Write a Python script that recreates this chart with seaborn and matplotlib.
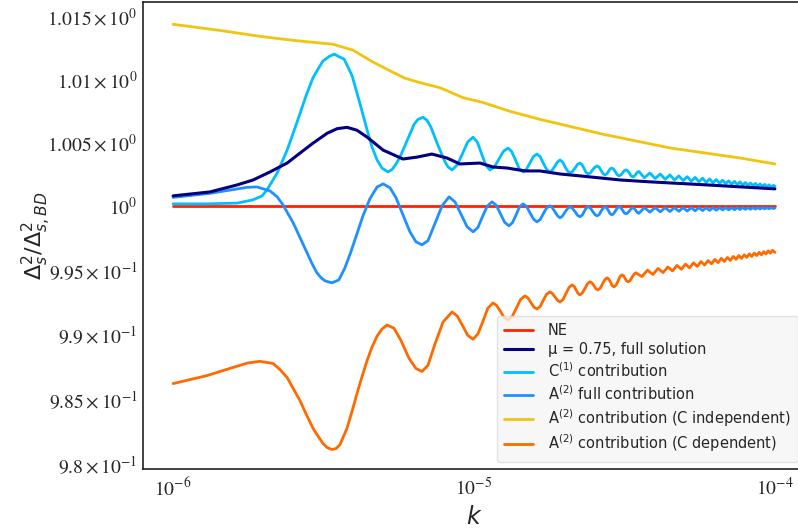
import numpy as np
import pandas as pd
import matplotlib
matplotlib.use("Agg")
import matplotlib.pyplot as plt
import seaborn as sns
from matplotlib.ticker import FixedLocator, FixedFormatter, NullLocator
from matplotlib.font_manager import FontProperties

# ---- data: log10(k) and power-spectrum ratio for each curve ----
logk_ne = [-6.0, -4.0]
ratio_ne = [1.0, 1.0]

logk_full = [-6.000, -5.877, -5.787, -5.734, -5.678, -5.621, -5.578, -5.535, -5.488, -5.455,
             -5.422, -5.389, -5.355, -5.302, -5.236, -5.189, -5.140, -5.090, -5.047, -4.980,
             -4.937, -4.890, -4.831, -4.781, -4.714, -4.648, -4.581, -4.515, -4.415, -4.226,
             -4.000]
ratio_full = [1.00083, 1.00114, 1.00169, 1.00208, 1.00271, 1.00341, 1.00420, 1.00498, 1.00576, 1.00612,
              1.00623, 1.00600, 1.00545, 1.00443, 1.00373, 1.00388, 1.00412, 1.00381, 1.00334, 1.00341,
              1.00310, 1.00302, 1.00279, 1.00279, 1.00255, 1.00240, 1.00224, 1.00208, 1.00193, 1.00169,
              1.00138]

logk_c1 = [-6.000, -5.894, -5.787, -5.734, -5.704, -5.688, -5.654, -5.621, -5.601, -5.578,
           -5.558, -5.535, -5.518, -5.502, -5.482, -5.465, -5.449, -5.432, -5.419, -5.405,
           -5.392, -5.379, -5.355, -5.339, -5.322, -5.306, -5.286, -5.272, -5.259, -5.246,
           -5.229, -5.199, -5.186, -5.169, -5.156, -5.143, -5.120, -5.096, -5.086,
           -5.073, -5.056, -5.038, -5.021, -5.003, -4.989, -4.975, -4.961, -4.947,
           -4.932, -4.917, -4.902, -4.887, -4.875, -4.862, -4.850, -4.837,
           -4.826, -4.814, -4.803, -4.791, -4.780, -4.770, -4.759, -4.748,
           -4.740, -4.731, -4.722, -4.714, -4.706, -4.698, -4.689, -4.681,
           -4.673, -4.664, -4.656, -4.648, -4.641, -4.634, -4.628, -4.621,
           -4.613, -4.606, -4.598, -4.591, -4.584, -4.578, -4.571, -4.565,
           -4.559, -4.553, -4.548, -4.542, -4.536, -4.530, -4.524, -4.518,
           -4.512, -4.506, -4.501, -4.495, -4.489, -4.483, -4.478, -4.472,
           -4.467, -4.462, -4.457, -4.452,
           -4.4339, -4.4156, -4.3979, -4.3810, -4.3647, -4.3490, -4.3339, -4.3192, -4.3050, -4.2913,
           -4.2780, -4.2651, -4.2526, -4.2404, -4.2285, -4.2170, -4.2058, -4.1948, -4.1842, -4.1737,
           -4.1635, -4.1536, -4.1439, -4.1344, -4.1251, -4.1160, -4.1070, -4.0982, -4.0897, -4.0813,
           -4.0730, -4.0650, -4.0570, -4.0492, -4.0415, -4.0340, -4.0266, -4.0193, -4.0122, -4.0051,
           -4.0000]
ratio_c1 = [1.00020, 1.00020, 1.00026, 1.00052, 1.00083, 1.00130, 1.00263, 1.00443, 1.00576, 1.00733,
            1.00874, 1.01015, 1.01085, 1.01148, 1.01183, 1.01203, 1.01183, 1.01164, 1.01101, 1.01030,
            1.00921, 1.00811, 1.00600, 1.00467, 1.00365, 1.00302, 1.00271, 1.00291, 1.00334, 1.00388,
            1.00482, 1.00647, 1.00686, 1.00702, 1.00678, 1.00623, 1.00482, 1.00349, 1.00310,
            1.00287, 1.00325, 1.00416, 1.00507, 1.00545, 1.00507, 1.00416, 1.00325, 1.00287,
            1.00312, 1.00373, 1.00434, 1.00459, 1.00432, 1.00365, 1.00298, 1.00271,
            1.00292, 1.00342, 1.00391, 1.00412, 1.00391, 1.00342, 1.00292, 1.00271,
            1.00285, 1.00318, 1.00351, 1.00365, 1.00350, 1.00314, 1.00278, 1.00263,
            1.00274, 1.00302, 1.00330, 1.00341, 1.00328, 1.00298, 1.00268, 1.00255,
            1.00264, 1.00287, 1.00309, 1.00318, 1.00308, 1.00283, 1.00257, 1.00247,
            1.00255, 1.00275, 1.00294, 1.00302, 1.00293, 1.00271, 1.00249, 1.00240,
            1.00247, 1.00264, 1.00280, 1.00287, 1.00279, 1.00260, 1.00240, 1.00232,
            1.00238, 1.00254, 1.00269, 1.00275,
            1.00225, 1.00263, 1.00219, 1.00255, 1.00213, 1.00248, 1.00208, 1.00240, 1.00203, 1.00234,
            1.00198, 1.00228, 1.00194, 1.00222, 1.00189, 1.00216, 1.00185, 1.00211, 1.00182, 1.00206,
            1.00178, 1.00201, 1.00175, 1.00197, 1.00171, 1.00193, 1.00168, 1.00188, 1.00165, 1.00184,
            1.00162, 1.00181, 1.00160, 1.00177, 1.00157, 1.00173, 1.00154, 1.00170, 1.00152, 1.00166,
            1.00157]

logk_a2 = [-6.000, -5.877, -5.787, -5.754, -5.721, -5.678, -5.654, -5.635, -5.601, -5.578,
           -5.555, -5.538, -5.522, -5.508, -5.495, -5.472, -5.449, -5.429, -5.409, -5.389,
           -5.369, -5.346, -5.322, -5.302, -5.279, -5.259, -5.236, -5.213, -5.193, -5.173,
           -5.153, -5.130, -5.106,
           -5.083, -5.063, -5.043, -5.023, -5.003, -4.987, -4.972, -4.956, -4.940,
           -4.926, -4.912, -4.898, -4.884, -4.872, -4.860, -4.849, -4.837,
           -4.825, -4.814, -4.802, -4.791, -4.780, -4.770, -4.759, -4.748,
           -4.740, -4.731, -4.722, -4.714, -4.706, -4.698, -4.689, -4.681,
           -4.673, -4.664, -4.656, -4.648, -4.641, -4.634, -4.628, -4.621,
           -4.613, -4.606, -4.598, -4.591, -4.584, -4.578, -4.571, -4.565,
           -4.559, -4.553, -4.548, -4.542, -4.536, -4.530, -4.524, -4.518,
           -4.512, -4.506, -4.501, -4.495, -4.489, -4.483, -4.478, -4.472,
           -4.467, -4.462, -4.457, -4.452,
           -4.4339, -4.4156, -4.3979, -4.3810, -4.3647, -4.3490, -4.3339, -4.3192, -4.3050, -4.2913,
           -4.2780, -4.2651, -4.2526, -4.2404, -4.2285, -4.2170, -4.2058, -4.1948, -4.1842, -4.1737,
           -4.1635, -4.1536, -4.1439, -4.1344, -4.1251, -4.1160, -4.1070, -4.0982, -4.0897, -4.0813,
           -4.0730, -4.0650, -4.0570, -4.0492, -4.0415, -4.0340, -4.0266, -4.0193, -4.0122, -4.0051,
           -4.0000]
ratio_a2 = [1.00071, 1.00103, 1.00138, 1.00150, 1.00153, 1.00122, 1.00075, 1.00013, 0.99872, 0.99754,
            0.99637, 0.99551, 0.99480, 0.99441, 0.99417, 0.99402, 0.99425, 0.99519, 0.99645, 0.99785,
            0.99926, 1.00060, 1.00153, 1.00177, 1.00146, 1.00067, 0.99934, 0.99801, 0.99723, 0.99699,
            0.99731, 0.99864, 1.00005,
            1.00075, 1.00035, 0.99938, 0.99841, 0.99801, 0.99835, 0.99919, 1.00002, 1.00036,
            1.00009, 0.99942, 0.99875, 0.99848, 0.99873, 0.99934, 0.99995, 1.00020,
            0.99999, 0.99950, 0.99900, 0.99879, 0.99897, 0.99942, 0.99987, 1.00005,
            0.99991, 0.99958, 0.99925, 0.99911, 0.99924, 0.99954, 0.99984, 0.99997,
            0.99986, 0.99958, 0.99930, 0.99919, 0.99930, 0.99958, 0.99986, 0.99997,
            0.99987, 0.99962, 0.99936, 0.99926, 0.99936, 0.99962, 0.99987, 0.99997,
            0.99988, 0.99966, 0.99943, 0.99934, 0.99943, 0.99966, 0.99988, 0.99997,
            0.99989, 0.99970, 0.99950, 0.99942, 0.99949, 0.99966, 0.99982, 0.99989,
            0.99983, 0.99968, 0.99952, 0.99946,
            0.99991, 0.99955, 0.99991, 0.99958, 0.99991, 0.99960, 0.99991, 0.99962, 0.99991, 0.99964,
            0.99991, 0.99966, 0.99991, 0.99967, 0.99991, 0.99969, 0.99991, 0.99970, 0.99991, 0.99972,
            0.99991, 0.99973, 0.99991, 0.99974, 0.99991, 0.99976, 0.99991, 0.99977, 0.99991, 0.99978,
            0.99991, 0.99979, 0.99991, 0.99980, 0.99991, 0.99981, 0.99991, 0.99982, 0.99991, 0.99983,
            0.99987]

logk_a2_ind = [-6.000, -5.844, -5.711, -5.601, -5.468, -5.402, -5.336, -5.279, -5.229, -5.179,
               -5.113, -5.037, -4.970, -4.880, -4.781, -4.571, -4.346, -4.116, -4.000]
ratio_a2_ind = [1.01440, 1.01391, 1.01344, 1.01312, 1.01281, 1.01234, 1.01140, 1.01070, 1.01011, 1.00976,
                1.00936, 1.00858, 1.00819, 1.00749, 1.00686, 1.00568, 1.00459, 1.00381, 1.00334]

logk_a2_dep = [-6.000, -5.887, -5.801, -5.751, -5.711, -5.668, -5.645, -5.621, -5.578, -5.558,
               -5.535, -5.518, -5.502, -5.488, -5.472, -5.458, -5.445, -5.422, -5.405, -5.389,
               -5.372, -5.355, -5.339, -5.322, -5.306, -5.289, -5.266, -5.243, -5.216, -5.193,
               -5.173, -5.153, -5.130, -5.103,
               -5.073, -5.056, -5.038, -5.021, -5.003, -4.987, -4.970, -4.954, -4.937,
               -4.925, -4.912, -4.900, -4.887, -4.873, -4.859, -4.845, -4.831,
               -4.821, -4.811, -4.801, -4.791, -4.780, -4.770, -4.759, -4.748,
               -4.740, -4.731, -4.722, -4.714, -4.704, -4.694, -4.684, -4.674,
               -4.667, -4.661, -4.654, -4.648, -4.640, -4.631, -4.623, -4.615,
               -4.608, -4.601, -4.595, -4.588, -4.580, -4.573, -4.565, -4.558,
               -4.552, -4.546, -4.541, -4.535, -4.528, -4.521, -4.515, -4.508,
               -4.503, -4.498, -4.493, -4.488, -4.481, -4.475, -4.468, -4.462,
               -4.4421, -4.4234, -4.4055, -4.3883, -4.3717, -4.3557, -4.3404, -4.3255, -4.3111, -4.2972,
               -4.2837, -4.2707, -4.2580, -4.2457, -4.2337, -4.2220, -4.2106, -4.1995, -4.1888, -4.1782,
               -4.1680, -4.1579, -4.1481, -4.1385, -4.1291, -4.1199, -4.1109, -4.1020, -4.0934, -4.0849,
               -4.0766, -4.0684, -4.0604, -4.0526, -4.0448, -4.0372, -4.0298, -4.0224, -4.0152, -4.0082,
               -4.0000]
ratio_a2_dep = [0.98619, 0.98681, 0.98744, 0.98779, 0.98791, 0.98775, 0.98728, 0.98666, 0.98486, 0.98384,
                0.98274, 0.98212, 0.98157, 0.98125, 0.98110, 0.98118, 0.98149, 0.98274, 0.98407, 0.98540,
                0.98674, 0.98799, 0.98901, 0.98987, 0.99042, 0.99073, 0.99049, 0.98955, 0.98815, 0.98736,
                0.98713, 0.98760, 0.98924, 0.99096,
                0.99175, 0.99144, 0.99069, 0.98994, 0.98963, 0.99004, 0.99104, 0.99204, 0.99245,
                0.99226, 0.99179, 0.99131, 0.99112, 0.99139, 0.99206, 0.99273, 0.99300,
                0.99285, 0.99249, 0.99213, 0.99198, 0.99217, 0.99265, 0.99312, 0.99331,
                0.99320, 0.99292, 0.99264, 0.99253, 0.99272, 0.99320, 0.99367, 0.99386,
                0.99375, 0.99347, 0.99319, 0.99308, 0.99323, 0.99359, 0.99395, 0.99410,
                0.99401, 0.99379, 0.99356, 0.99347, 0.99361, 0.99394, 0.99427, 0.99441,
                0.99431, 0.99406, 0.99380, 0.99370, 0.99384, 0.99417, 0.99450, 0.99464,
                0.99456, 0.99437, 0.99418, 0.99410, 0.99420, 0.99445, 0.99470, 0.99480,
                0.99451, 0.99501, 0.99467, 0.99514, 0.99482, 0.99526, 0.99495, 0.99538, 0.99508, 0.99548,
                0.99519, 0.99558, 0.99530, 0.99568, 0.99541, 0.99576, 0.99551, 0.99585, 0.99560, 0.99593,
                0.99569, 0.99600, 0.99577, 0.99608, 0.99585, 0.99615, 0.99593, 0.99621, 0.99601, 0.99628,
                0.99608, 0.99634, 0.99615, 0.99640, 0.99621, 0.99645, 0.99628, 0.99651, 0.99634, 0.99656,
                0.99640]

x_ticks = [1e-6, 1e-5, 1e-4]
x_tick_labels = [r"$10^{-6}$", r"$10^{-5}$", r"$10^{-4}$"]
y_ticks = [0.98, 0.985, 0.99, 0.995, 1.0, 1.005, 1.01, 1.015]
y_tick_labels = [r"$9.8\times10^{-1}$", r"$9.85\times10^{-1}$", r"$9.9\times10^{-1}$",
                 r"$9.95\times10^{-1}$", r"$10^{0}$", r"$1.005\times10^{0}$",
                 r"$1.01\times10^{0}$", r"$1.015\times10^{0}$"]

# ---- styling ----
sns.set_style("white")
plt.rcParams["font.family"] = ["DejaVu Sans"]
plt.rcParams["mathtext.fontset"] = "stix"

fig = plt.figure(figsize=(7.98, 5.29), dpi=100)
ax = fig.add_axes([143 / 798, 1 - 469 / 529, 662 / 798, (469 - 1.7) / 529])

curves = [
    ("NE", logk_ne, ratio_ne, "#ff2200", 2.0, 2),
    ("μ = 0.75, full solution", logk_full, ratio_full, "#000080", 2.2, 5),
    (r"C$^{(1)}$ contribution", logk_c1, ratio_c1, "#00bfff", 2.0, 3),
    (r"A$^{(2)}$ full contribution", logk_a2, ratio_a2, "#1e90ff", 2.0, 4),
    (r"A$^{(2)}$ contribution (C independent)", logk_a2_ind, ratio_a2_ind, "#f1c40f", 2.0, 3),
    (r"A$^{(2)}$ contribution (C dependent)", logk_a2_dep, ratio_a2_dep, "#ff6a00", 2.0, 3),
]

for label, logk, ratio, color, lw, z in curves:
    df = pd.DataFrame({"k": 10.0 ** np.asarray(logk), "ratio": ratio})
    sns.lineplot(data=df, x="k", y="ratio", ax=ax, color=color, linewidth=lw,
                 label=label, zorder=z, estimator=None, sort=False)

ax.set_xscale("log")
ax.set_yscale("log")
ax.set_xlim(10 ** -6.1, 10 ** -3.9)
ax.set_ylim(0.9796, 1.0162)

ax.xaxis.set_major_locator(FixedLocator(x_ticks))
ax.xaxis.set_major_formatter(FixedFormatter(x_tick_labels))
ax.xaxis.set_minor_locator(NullLocator())
ax.yaxis.set_major_locator(FixedLocator(y_ticks))
ax.yaxis.set_major_formatter(FixedFormatter(y_tick_labels))
ax.yaxis.set_minor_locator(NullLocator())
ax.tick_params(axis="both", which="major", labelsize=14, length=0)
ax.tick_params(axis="y", pad=4)
ax.tick_params(axis="x", pad=6)

for s in ax.spines.values():
    s.set_color("#222222")
    s.set_linewidth(1.2)

ax.set_xlabel(r"$k$", fontsize=17, math_fontfamily="dejavusans", labelpad=4)
ax.set_ylabel(r"$\Delta_s^2/\Delta_{s,BD}^2$", fontsize=16, math_fontfamily="dejavusans", labelpad=-4)

leg_font = FontProperties(family="DejaVu Sans", size=10.5, math_fontfamily="dejavusans")
ax.legend(loc="lower right", prop=leg_font, frameon=True, facecolor="#f5f5f5",
          edgecolor="#dcdcdc", framealpha=0.8, borderaxespad=0.5,
          labelspacing=0.28, borderpad=0.5, handletextpad=1.0)

fig.savefig("out.png", dpi=100)
